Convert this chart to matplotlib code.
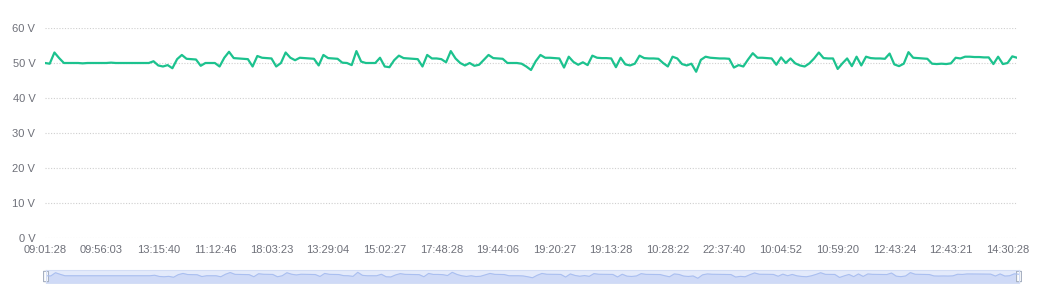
import numpy as np
import matplotlib
matplotlib.use("Agg")
import matplotlib.pyplot as plt
from matplotlib.patches import FancyBboxPatch

plt.rcParams['font.family'] = ['Liberation Sans', 'DejaVu Sans']

# voltage readings, one per sample
volts = [
    50.0, 49.8, 53.0, 51.4, 50.0, 50.0, 50.0, 50.0, 49.9, 50.0,
    50.0, 50.0, 50.0, 50.0, 50.1, 50.0, 50.0, 50.0, 50.0, 50.0,
    50.0, 50.0, 50.0, 50.5, 49.3, 49.0, 49.4, 48.5, 51.1, 52.3,
    51.2, 51.1, 51.0, 49.2, 50.0, 50.0, 50.0, 49.0, 51.5, 53.2,
    51.4, 51.3, 51.2, 51.1, 49.0, 52.0, 51.5, 51.4, 51.3, 49.0,
    50.0, 53.0, 51.5, 50.8, 51.5, 51.4, 51.3, 51.2, 49.3, 52.3,
    51.4, 51.3, 51.2, 50.1, 50.0, 49.4, 53.4, 50.4, 50.0, 50.0,
    50.0, 51.5, 49.0, 48.8, 50.8, 52.1, 51.4, 51.3, 51.2, 51.1,
    49.0, 52.3, 51.3, 51.3, 51.1, 50.2, 53.4, 51.3, 50.0, 49.3,
    50.0, 49.2, 49.5, 50.9, 52.3, 51.4, 51.3, 51.2, 50.0, 50.0,
    50.0, 49.8, 49.0, 48.0, 50.5, 52.3, 51.5, 51.5, 51.4, 51.3,
    48.7, 51.8, 50.3, 49.5, 50.2, 49.4, 52.1, 51.5, 51.4, 51.4,
    51.3, 48.8, 51.5, 49.6, 49.3, 49.8, 52.1, 51.4, 51.3, 51.3,
    51.2, 50.0, 49.0, 51.8, 51.3, 49.7, 49.3, 49.8, 47.5, 50.9,
    51.8, 51.5, 51.4, 51.3, 51.3, 51.2, 48.7, 49.4, 49.0, 51.0,
    52.8, 51.5, 51.5, 51.4, 51.3, 49.5, 51.6, 50.0, 51.3, 49.9,
    49.3, 49.0, 49.9, 51.3, 53.0, 51.4, 51.3, 51.3, 48.3, 49.9,
    51.3, 49.1, 51.8, 49.3, 51.8, 51.4, 51.3, 51.3, 51.2, 52.7,
    49.6, 49.1, 49.8, 53.1, 51.5, 51.4, 51.3, 51.2, 49.8, 49.7,
    49.8, 49.7, 49.9, 51.5, 51.3, 51.8, 51.8, 51.7, 51.7, 51.6,
    51.6, 49.7, 51.8, 49.7, 50.0, 51.9, 51.5,
]

# every 12th sample gets a time label
time_labels = ["09:01:28", "09:56:03", "13:15:40", "11:12:46", "18:03:23",
               "13:29:04", "15:02:27", "17:48:28", "19:44:06", "19:20:27",
               "19:13:28", "10:28:22", "22:37:40", "10:04:52", "10:59:20",
               "12:43:24", "12:43:21", "14:30:28"]
label_step = 12
y_ticks = [0, 10, 20, 30, 40, 50, 60]

x = np.arange(len(volts))
txt = '#6e7079'
W, H = 1050, 284

fig = plt.figure(figsize=(W / 100, H / 100), dpi=100)
ax = fig.add_axes([45 / W, (H - 238) / H, 972 / W, 210 / H])

ax.plot(x, volts, color='#1cc28e', lw=1.6, solid_joinstyle='round')
ax.set_xlim(0, len(volts) - 1)
ax.set_ylim(0, 60)
ax.set_yticks(y_ticks)
ax.set_yticklabels([f"{v} V" for v in y_ticks])
ax.set_xticks(x[::label_step])
ax.set_xticklabels(time_labels)
ax.tick_params(length=0, labelsize=8, colors=txt)
ax.tick_params(axis='y', pad=7)
ax.tick_params(axis='x', pad=5)
for s in ax.spines.values():
    s.set_visible(False)
ax.yaxis.grid(True, color='#cfcfcf', lw=0.8, linestyle=(0, (1, 1.5)))
ax.set_axisbelow(True)

# data zoom slider
ax2 = fig.add_axes([46 / W, 0.7 / H, 973 / W, 13.6 / H])
ax2.set_facecolor('#e3eafb')
ax2.plot(x, volts, color='#aabff0', lw=0.8)
ax2.fill_between(x, volts, 0, color='#cfdaf7')
ax2.set_xlim(0, len(volts) - 1)
ax2.set_ylim(42.5, 56)
ax2.set_xticks([])
ax2.set_yticks([])
for s in ax2.spines.values():
    s.set_color('#d3ddf5')
    s.set_linewidth(0.8)
for hx in (0.0, 1.0):
    h = FancyBboxPatch((hx - 0.0025, 0.12), 0.005, 0.76,
                       boxstyle="round,pad=0,rounding_size=0.002",
                       transform=ax2.transAxes, clip_on=False,
                       facecolor='white', edgecolor='#a7b1c2', lw=0.8)
    ax2.add_patch(h)

fig.savefig('out.png', dpi=100)
